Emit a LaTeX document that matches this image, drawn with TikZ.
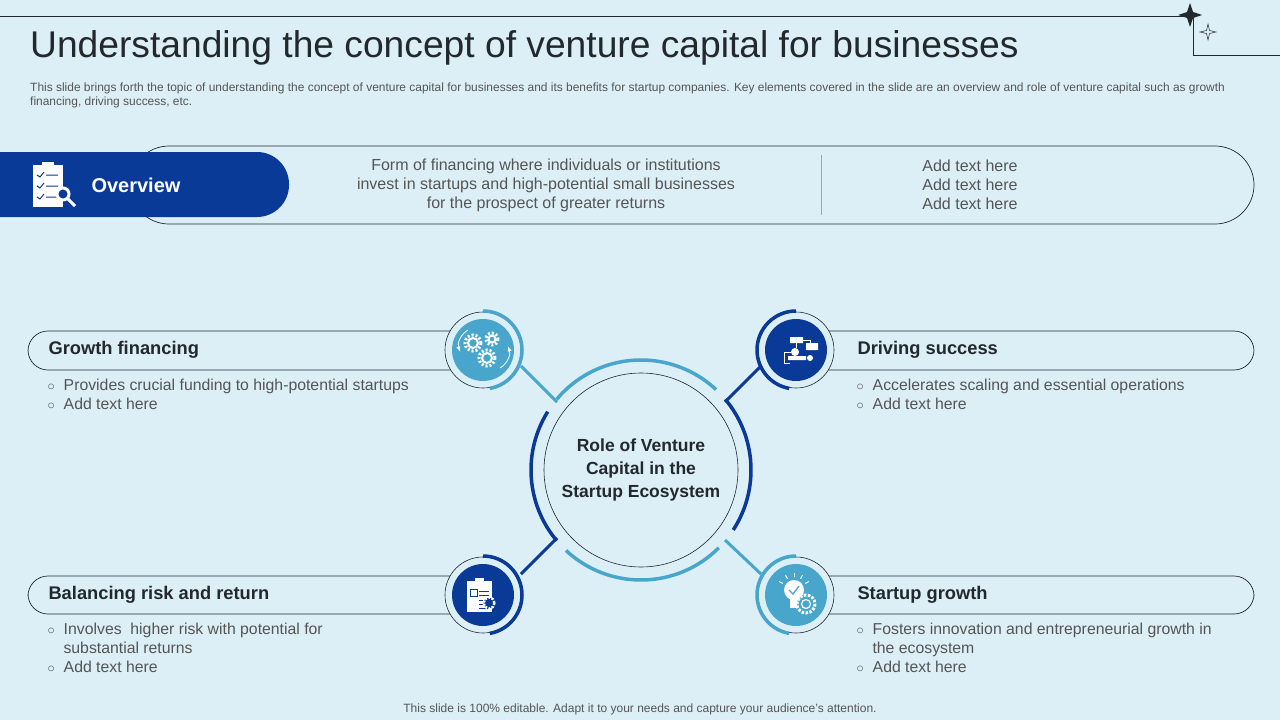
\documentclass[tikz,border=0pt]{standalone}
\usepackage{fontspec}
\setmainfont{Liberation Sans}
\usetikzlibrary{positioning}
\definecolor{bgblue}{RGB}{220,238,246}
\definecolor{darkblue}{RGB}{10,58,152}
\definecolor{lightblue}{RGB}{72,166,204}
\definecolor{txtgray}{RGB}{85,85,85}
\definecolor{inkdark}{RGB}{35,40,45}
\begin{document}
\begin{tikzpicture}
		[
		x=1pt, y=-1pt, >=latex,
		pill/.style={draw=inkdark, line width=0.7pt, rounded corners=20pt},
		head/.style={anchor=west, font=\fontsize{18.3}{20}\selectfont\bfseries, text=inkdark},
		body/.style={anchor=west, font=\fontsize{15.8}{19}\selectfont, text=txtgray, align=left},
		ring/.style={draw=inkdark, line width=0.6pt, fill=bgblue},
		arcline/.style={line width=3.5pt}
		]
		%Hintergrund
		\fill[bgblue] (0,0) rectangle (1280,720);
		\useasboundingbox (0,0) rectangle (1280,720);
		
		%Kopfzeile
		\draw[inkdark, line width=0.7pt] (0,16) -- (1190,16);
		\draw[inkdark, line width=0.7pt] (1193,18) -- (1193,55) -- (1280,55);
		\fill[inkdark] (1190,3) -- (1193,12) -- (1202,15) -- (1193,18) -- (1190,27) -- (1187,18) -- (1178,15) -- (1187,12) -- cycle;
		\draw[inkdark, line width=0.5pt] (1208,24) -- (1209.5,30.5) -- (1216,32) -- (1209.5,33.5) -- (1208,40) -- (1206.5,33.5) -- (1200,32) -- (1206.5,30.5) -- cycle;
		\node (title) [anchor=west, text=inkdark, font=\fontsize{37.2}{40}\selectfont, inner sep=0pt] at (30,48) {Understanding the concept of venture capital for businesses};
		\node (intro) [anchor=north west, text=txtgray, font=\fontsize{11.95}{14}\selectfont, align=left, inner sep=0pt] at (30,83)
		{This slide brings forth the topic of understanding the concept of venture capital for businesses and its benefits for startup companies. Key elements covered in the slide are an overview and role of venture capital such as growth\\financing, driving success, etc.};
		
		%Overview
		\draw[inkdark, line width=0.7pt, rounded corners=39pt] (130,146) rectangle (1254,224);
		\fill[darkblue, rounded corners=32pt] (-40,152) rectangle (289,217);
		\fill[darkblue] (0,152) rectangle (40,217);
		%Icon Overview
		\fill[white] (33,165) rectangle (63,207);
		\fill[white] (42,162) rectangle (54,167);
		\foreach \y in {175,186,197}
		\draw[darkblue, line width=1pt] (37,\y) -- (40,\y+2) -- (44,\y-3) (46,\y) -- (58,\y);
		\draw[white, line width=3pt, fill=darkblue] (63,194) circle (6);
		\draw[white, line width=3pt] (67,198) -- (75,206);
		\node (ov) [anchor=west, text=white, font=\fontsize{20}{24}\selectfont\bfseries] at (88,185) {Overview};
		\node (ovtext) [text=txtgray, font=\fontsize{16}{19}\selectfont, align=center] at (546,185)
		{Form of financing where individuals or institutions\\invest in startups and high-potential small businesses\\for the prospect of greater returns};
		\draw[gray!70, line width=0.5pt] (821,155) -- (821,215);
		\node (ovadd) [text=txtgray, font=\fontsize{16}{19}\selectfont, align=center] at (970,185)
		{Add text here\\Add text here\\Add text here};
		
		%Etiketten
		\draw[pill] (28,331) rectangle (470,370);
		\draw[pill] (790,331) rectangle (1254,370);
		\draw[pill] (28,576) rectangle (470,614);
		\draw[pill] (790,576) rectangle (1254,614);
		\node (gf) [head] at (45,350) {Growth financing};
		\node (ds) [head] at (854,350) {Driving success};
		\node (br) [head] at (45,595) {Balancing risk and return};
		\node (sg) [head] at (854,595) {Startup growth};
		
		\node (gftext) [body, anchor=north west] at (44,376) {$\circ$\hspace{9pt}Provides crucial funding to high-potential startups\\$\circ$\hspace{9pt}Add text here};
		\node (dstext) [body, anchor=north west] at (853,376) {$\circ$\hspace{9pt}Accelerates scaling and essential operations\\$\circ$\hspace{9pt}Add text here};
		\node (brtext) [body, anchor=north west] at (44,620) {$\circ$\hspace{9pt}Involves\ \ higher risk with potential for\\\hspace{16pt}substantial returns\\$\circ$\hspace{9pt}Add text here};
		\node (sgtext) [body, anchor=north west] at (853,620) {$\circ$\hspace{9pt}Fosters innovation and entrepreneurial growth in\\\hspace{16pt}the ecosystem\\$\circ$\hspace{9pt}Add text here};
		
		%Zentrum
		\coordinate (c) at (641,470);
		\coordinate (jtl) at (557,402);
		\coordinate (jtr) at (725,402);
		\coordinate (jbl) at (557,538);
		\coordinate (jbr) at (725,540);
		\draw[lightblue, line width=3pt] (jtl) -- (521,366);
		\draw[darkblue, line width=3pt] (jtr) -- (761,366);
		\draw[darkblue, line width=3pt] (jbl) -- (521,574);
		\draw[lightblue, line width=3pt] (jbr) -- (761,574);
		\draw[lightblue, arcline] (c) ++(-47:110) arc[start angle=-47, end angle=-140, radius=110];
		\draw[darkblue, arcline] (c) ++(-148:110) arc[start angle=-148, end angle=-220, radius=110];
		\draw[lightblue, arcline] (c) ++(-227:110) arc[start angle=-227, end angle=-315, radius=110];
		\draw[darkblue, arcline] (c) ++(33:110) arc[start angle=33, end angle=-40, radius=110];
		\node (role) [circle, draw=inkdark, line width=0.6pt, minimum size=194pt, align=center, text=inkdark,
		font=\fontsize{17.5}{23}\selectfont\bfseries] at (c) {Role of Venture\\Capital in the\\Startup Ecosystem};
		
		%Symbole
		\foreach \n/\cx/\cy/\fc/\sa/\ea in {tl/483/350/lightblue/-90/80, tr/796/350/darkblue/-90/-260,
			bl/483/595/darkblue/-90/80, br/796/595/lightblue/-90/-260}{
			\node (ring\n) [circle, ring, minimum size=76pt] at (\cx,\cy) {};
			\draw[\fc, arcline] (\cx,\cy) ++(\sa:39) arc[start angle=\sa, end angle=\ea, radius=39];
			\node (icon\n) [circle, fill=\fc, minimum size=62pt] at (\cx,\cy) {};
		}
		%Zahnräder
		\foreach \gx/\gy/\gr in {473/343/8, 492/339/6, 487/358/8}
		\draw[white, line width=3pt, dash pattern=on 2pt off 2pt] (\gx,\gy) circle (\gr) ;
		\foreach \gx/\gy/\gr in {473/343/5, 492/339/3.5, 487/358/5}
		\draw[white, line width=2pt] (\gx,\gy) circle (\gr);
		\draw[white, line width=0.8pt, ->] (468,330) arc[start angle=-120, end angle=-200, radius=18];
		\draw[white, line width=0.8pt, ->] (500,368) arc[start angle=60, end angle=-20, radius=18];
		%Flussdiagramm
		\fill[white] (790,337) rectangle (803,343) (806,343) rectangle (818,350) (788,356) rectangle (806,360);
		\fill[white] (795,352) circle (4) (810,358) circle (3);
		\draw[white, line width=0.8pt] (796,343) -- (796,348) (803,340) -- (810,340) -- (810,343) (791,352) -- (784,352) -- (784,363) -- (790,363);
		%Klemmbrett
		\fill[white] (467,581) rectangle (492,612);
		\fill[white] (475,578) rectangle (484,583);
		\draw[darkblue, line width=0.8pt] (470,589) rectangle (477,596);
		\foreach \y in {591,595,600,604,608}
		\draw[darkblue, line width=0.8pt] (479,\y) -- (489,\y);
		\draw[white, line width=2.5pt, fill=darkblue, dash pattern=on 2pt off 1.5pt] (489,603) circle (5.5);
		%Glühbirne
		\fill[white] (794,590) circle (10);
		\fill[white] (790,598) rectangle (798,608);
		\draw[lightblue, line width=1.3pt] (789,590) -- (793,594) -- (799,586);
		\foreach \a in {-30,-60,-90,-120,-150}
		\draw[white, line width=1pt] (794,590) ++(\a:13) -- ++(\a:4);
		\draw[white, line width=3pt, fill=lightblue, dash pattern=on 2.5pt off 1.5pt] (806,604) circle (9);
		\draw[white, line width=1.2pt] (806,604) circle (4.5);
		
		%Fußzeile
		\node (foot) [text=txtgray, font=\fontsize{12}{13}\selectfont] at (640,709) {This slide is 100\% editable. Adapt it to your needs and capture your audience's attention.};
	\end{tikzpicture}
\end{document}
